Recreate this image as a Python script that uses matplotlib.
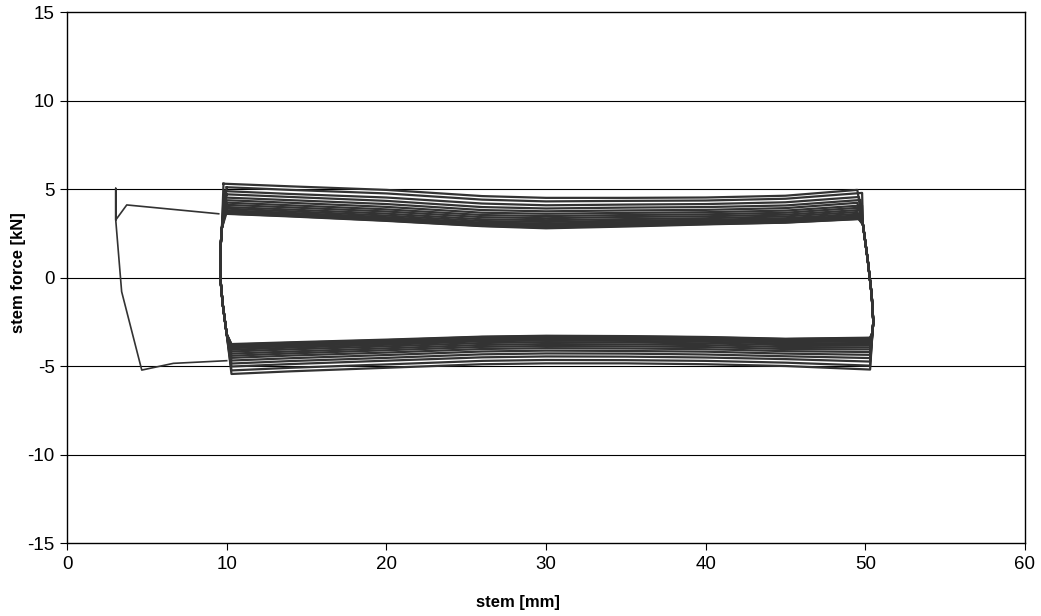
import matplotlib
matplotlib.use("Agg")
import matplotlib.pyplot as plt

# ---- data ----
# displacement grid of the loading branches [mm]
upper_x = [10.0, 14, 20, 26, 30, 35, 40, 45, 49.6]
lower_x = [10.3, 14, 20, 26, 30, 35, 40, 45, 50.3]

# force on the upper branch (moving right) per cycle [kN]
upper_f = [
    [5.30, 5.15, 4.95, 4.60, 4.50, 4.50, 4.52, 4.62, 4.95],
    [5.10, 4.95, 4.75, 4.40, 4.30, 4.33, 4.35, 4.45, 4.78],
    [4.88, 4.72, 4.52, 4.18, 4.08, 4.12, 4.15, 4.25, 4.55],
    [4.70, 4.55, 4.33, 3.98, 3.90, 3.95, 3.98, 4.07, 4.38],
    [4.52, 4.37, 4.15, 3.81, 3.74, 3.79, 3.82, 3.92, 4.22],
    [4.37, 4.22, 3.99, 3.66, 3.60, 3.65, 3.69, 3.78, 4.07],
    [4.23, 4.08, 3.85, 3.53, 3.47, 3.53, 3.57, 3.66, 3.94],
    [4.11, 3.96, 3.73, 3.41, 3.35, 3.42, 3.46, 3.55, 3.82],
    [3.99, 3.84, 3.61, 3.29, 3.24, 3.30, 3.35, 3.45, 3.70],
    [3.89, 3.74, 3.50, 3.19, 3.14, 3.21, 3.26, 3.35, 3.60],
    [3.80, 3.65, 3.41, 3.10, 3.05, 3.13, 3.18, 3.28, 3.51],
    [3.73, 3.58, 3.34, 3.03, 2.97, 3.05, 3.12, 3.22, 3.44],
    [3.68, 3.53, 3.29, 2.98, 2.90, 3.00, 3.07, 3.17, 3.39],
    [3.65, 3.50, 3.26, 2.95, 2.86, 2.96, 3.05, 3.14, 3.36],
    [3.62, 3.47, 3.22, 2.92, 2.82, 2.92, 3.02, 3.11, 3.32],
    [3.60, 3.45, 3.20, 2.90, 2.78, 2.88, 3.00, 3.10, 3.30],
]

# force on the lower branch (moving left) per cycle [kN], listed at lower_x
lower_f = [
    [-5.45, -5.30, -5.10, -4.90, -4.85, -4.85, -4.90, -5.00, -5.20],
    [-5.25, -5.10, -4.91, -4.71, -4.66, -4.67, -4.71, -4.81, -4.98],
    [-5.03, -4.89, -4.70, -4.51, -4.46, -4.47, -4.52, -4.61, -4.75],
    [-4.86, -4.72, -4.54, -4.34, -4.29, -4.30, -4.35, -4.45, -4.55],
    [-4.69, -4.56, -4.38, -4.18, -4.13, -4.15, -4.19, -4.30, -4.37],
    [-4.54, -4.41, -4.24, -4.04, -3.99, -4.01, -4.05, -4.16, -4.21],
    [-4.42, -4.29, -4.11, -3.92, -3.87, -3.89, -3.93, -4.04, -4.06],
    [-4.30, -4.18, -4.00, -3.81, -3.76, -3.78, -3.82, -3.93, -3.94],
    [-4.18, -4.06, -3.89, -3.70, -3.65, -3.67, -3.72, -3.82, -3.81],
    [-4.08, -3.96, -3.80, -3.60, -3.56, -3.58, -3.63, -3.73, -3.70],
    [-3.99, -3.88, -3.72, -3.53, -3.48, -3.50, -3.55, -3.65, -3.61],
    [-3.92, -3.81, -3.66, -3.46, -3.42, -3.44, -3.49, -3.59, -3.53],
    [-3.87, -3.76, -3.61, -3.42, -3.37, -3.39, -3.44, -3.54, -3.48],
    [-3.83, -3.72, -3.57, -3.38, -3.34, -3.36, -3.41, -3.51, -3.45],
    [-3.79, -3.69, -3.54, -3.36, -3.31, -3.33, -3.38, -3.48, -3.42],
    [-3.76, -3.66, -3.51, -3.34, -3.29, -3.31, -3.36, -3.46, -3.40],
]

# stroke ends per cycle [mm]
upper_start_x = [9.8, 10.0, 9.9, 10.0, 9.8, 9.9, 10.0, 9.9, 9.8, 10.0, 9.9, 9.8, 10.0, 9.9, 9.8, 9.9]
upper_end_x = [49.5, 49.8, 49.6, 49.7, 49.5, 49.8, 49.6, 49.7, 49.5, 49.6, 49.7, 49.6, 49.5, 49.6, 49.7, 49.6]

# reversal at the right end (force drops from + to -)
right_rev_x = [49.85, 50.15, 50.4, 50.5, 50.45]
right_rev_y = [3.0, 1.0, -1.0, -2.5, -3.1]
# reversal at the left end (force rises from - to +)
left_rev_x = [10.0, 9.75, 9.6, 9.6, 9.7]
left_rev_y = [-3.2, -1.5, 0.0, 1.5, 2.8]

# initial approach path
start_x = [10.0, 6.66, 4.68, 3.42, 3.05, 3.05, 3.05, 3.74, 9.5]
start_y = [-4.7, -4.85, -5.23, -0.8, 3.25, 5.04, 3.25, 4.1, 3.6]

x_ticks = [0, 10, 20, 30, 40, 50, 60]
y_ticks = [-15, -10, -5, 0, 5, 10, 15]

# ---- plot ----
plt.rcParams['font.family'] = ['Liberation Sans', 'DejaVu Sans']
plt.rcParams['axes.unicode_minus'] = False
fig = plt.figure(figsize=(10.41, 6.16), dpi=100)
ax = fig.add_axes([0.0644, 0.1185, 0.9202, 0.862])

line_color = '#333333'
for y in [-10, -5, 0, 5, 10]:
    ax.axhline(y, color='black', lw=0.8, zorder=1)

ax.plot(start_x, start_y, color=line_color, lw=1.2, zorder=2)

for k in range(len(upper_f)):
    xs, ys = [], []
    ux = [upper_start_x[k]] + upper_x[1:-1] + [upper_end_x[k]]
    xs += ux
    ys += upper_f[k]
    xs += right_rev_x
    ys += right_rev_y
    xs += lower_x[::-1]
    ys += lower_f[k][::-1]
    xs += left_rev_x
    ys += left_rev_y
    xs += [ux[0]]
    ys += [upper_f[k][0]]
    ax.plot(xs, ys, color=line_color, lw=1.6, zorder=3, solid_joinstyle='round')

ax.set_xlim(0, 60)
ax.set_ylim(-15, 15)
ax.set_xticks(x_ticks)
ax.set_yticks(y_ticks)
ax.tick_params(direction='out', length=5, width=0.8, labelsize=13.5, colors='black', pad=4)
for s in ax.spines.values():
    s.set_linewidth(1.0)
    s.set_color('black')

ax.set_xlabel('stem [mm]', fontsize=12, fontweight='bold')
ax.xaxis.set_label_coords(0.471, -0.097)
ax.set_ylabel('stem force [kN]', fontsize=12, fontweight='bold')
ax.yaxis.set_label_coords(-0.043, 0.51)

fig.savefig('out.png', dpi=100)
